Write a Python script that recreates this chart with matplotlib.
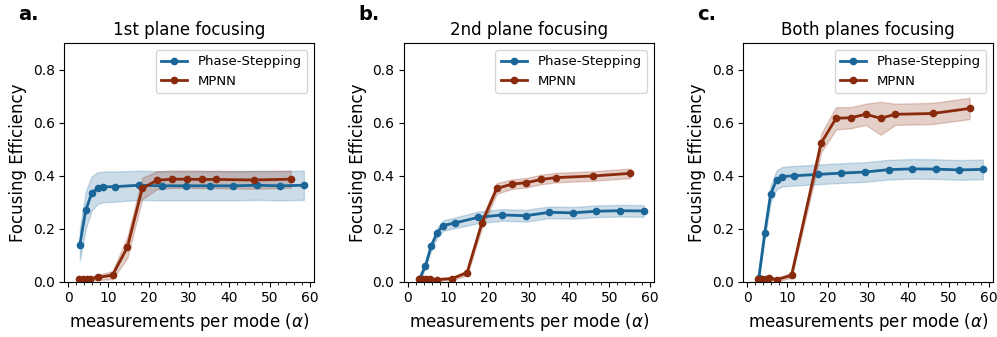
import matplotlib
matplotlib.use("Agg")
import matplotlib.pyplot as plt
import numpy as np
from matplotlib.ticker import MultipleLocator

# x positions (measurements per mode)
ps_x = [2.93, 4.39, 5.85, 7.31, 8.78, 11.7, 17.55, 23.4, 29.25, 35.1, 40.95, 46.8, 52.65, 58.5]
nn_x = [2.76, 3.68, 4.6, 5.52, 7.36, 11.04, 14.72, 18.4, 22.08, 25.76, 29.44, 33.12, 36.8, 46.0, 55.2]
nn_x_c = [2.76, 3.68, 4.6, 5.52, 7.36, 11.04, 18.4, 22.08, 25.76, 29.44, 33.12, 36.8, 46.0, 55.2]

# panel a: 1st plane
ps_a = [0.14, 0.27, 0.333, 0.353, 0.358, 0.359, 0.364, 0.362, 0.362, 0.362, 0.362, 0.364, 0.362, 0.364]
ps_a_err = [0.06, 0.07, 0.065, 0.06, 0.058, 0.057, 0.055, 0.055, 0.055, 0.055, 0.055, 0.055, 0.055, 0.055]
nn_a = [0.012, 0.012, 0.012, 0.012, 0.016, 0.025, 0.13, 0.352, 0.383, 0.387, 0.387, 0.386, 0.386, 0.384, 0.387]
nn_a_err = [0.008, 0.008, 0.008, 0.008, 0.01, 0.015, 0.04, 0.04, 0.034, 0.033, 0.033, 0.033, 0.033, 0.033, 0.033]

# panel b: 2nd plane
ps_b = [0.011, 0.06, 0.136, 0.185, 0.212, 0.222, 0.243, 0.252, 0.249, 0.262, 0.26, 0.266, 0.268, 0.267]
ps_b_err = [0.008, 0.01, 0.015, 0.018, 0.02, 0.02, 0.022, 0.022, 0.022, 0.022, 0.022, 0.022, 0.022, 0.022]
nn_b = [0.01, 0.01, 0.01, 0.01, 0.008, 0.012, 0.034, 0.222, 0.352, 0.368, 0.374, 0.386, 0.393, 0.399, 0.409]
nn_b_err = [0.005, 0.005, 0.005, 0.005, 0.005, 0.006, 0.01, 0.02, 0.02, 0.018, 0.018, 0.018, 0.018, 0.018, 0.018]

# panel c: both planes
ps_c = [0.015, 0.183, 0.331, 0.384, 0.397, 0.4, 0.405, 0.41, 0.414, 0.423, 0.426, 0.425, 0.422, 0.424]
ps_c_err = [0.01, 0.02, 0.03, 0.036, 0.037, 0.037, 0.037, 0.037, 0.037, 0.037, 0.037, 0.037, 0.037, 0.037]
nn_c = [0.01, 0.012, 0.012, 0.014, 0.008, 0.024, 0.524, 0.617, 0.619, 0.632, 0.617, 0.632, 0.635, 0.654]
nn_c_err = [0.006, 0.006, 0.006, 0.006, 0.006, 0.01, 0.035, 0.042, 0.04, 0.04, 0.062, 0.04, 0.04, 0.04]

titles = ["1st plane focusing", "2nd plane focusing", "Both planes focusing"]
panel_labels = ["a.", "b.", "c."]

BLUE = "#1a6699"
RED = "#8a2a0c"


def plot_panel(ax, x1, y1, e1, x2, y2, e2, title):
    y1, e1, y2, e2 = map(np.array, (y1, e1, y2, e2))
    ax.fill_between(x1, y1 - e1, y1 + e1, color=BLUE, alpha=0.22, linewidth=1)
    ax.fill_between(x2, y2 - e2, y2 + e2, color=RED, alpha=0.22, linewidth=1)
    ax.plot(x1, y1, "-o", color=BLUE, lw=2, ms=4.5, label="Phase-Stepping")
    ax.plot(x2, y2, "-o", color=RED, lw=2, ms=4.5, label="MPNN")
    ax.set_xlim(-0.9, 61)
    ax.set_ylim(0, 0.9)
    ax.set_yticks([0.0, 0.2, 0.4, 0.6, 0.8])
    ax.set_xticks([0, 10, 20, 30, 40, 50, 60])
    ax.xaxis.set_minor_locator(MultipleLocator(2))
    ax.tick_params(labelsize=10)
    ax.set_xlabel(r"measurements per mode ($\alpha$)", fontsize=12)
    ax.set_ylabel("Focusing Efficiency", fontsize=12)
    ax.set_title(title, fontsize=12)
    ax.legend(loc="upper right", fontsize=9.5)


def main():
    fig = plt.figure(figsize=(9.97, 3.37), dpi=100, facecolor="w")
    lefts = [64.4 / 997, 404.1 / 997, 743.4 / 997]
    width = 249.6 / 997
    bottom = 1 - 281.7 / 337
    height = (281.7 - 43.3) / 337
    data = [
        (ps_x, ps_a, ps_a_err, nn_x, nn_a, nn_a_err),
        (ps_x, ps_b, ps_b_err, nn_x, nn_b, nn_b_err),
        (ps_x, ps_c, ps_c_err, nn_x_c, nn_c, nn_c_err),
    ]
    for i in range(3):
        ax = fig.add_axes([lefts[i], bottom, width, height])
        plot_panel(ax, *data[i], titles[i])
        fig.text(lefts[i] - 46 / 997, 1 - 14 / 337, panel_labels[i],
                 fontsize=14, fontweight="bold", va="center", ha="left")
    fig.savefig("out.png", dpi=100)
    plt.close(fig)


if __name__ == "__main__":
    main()
